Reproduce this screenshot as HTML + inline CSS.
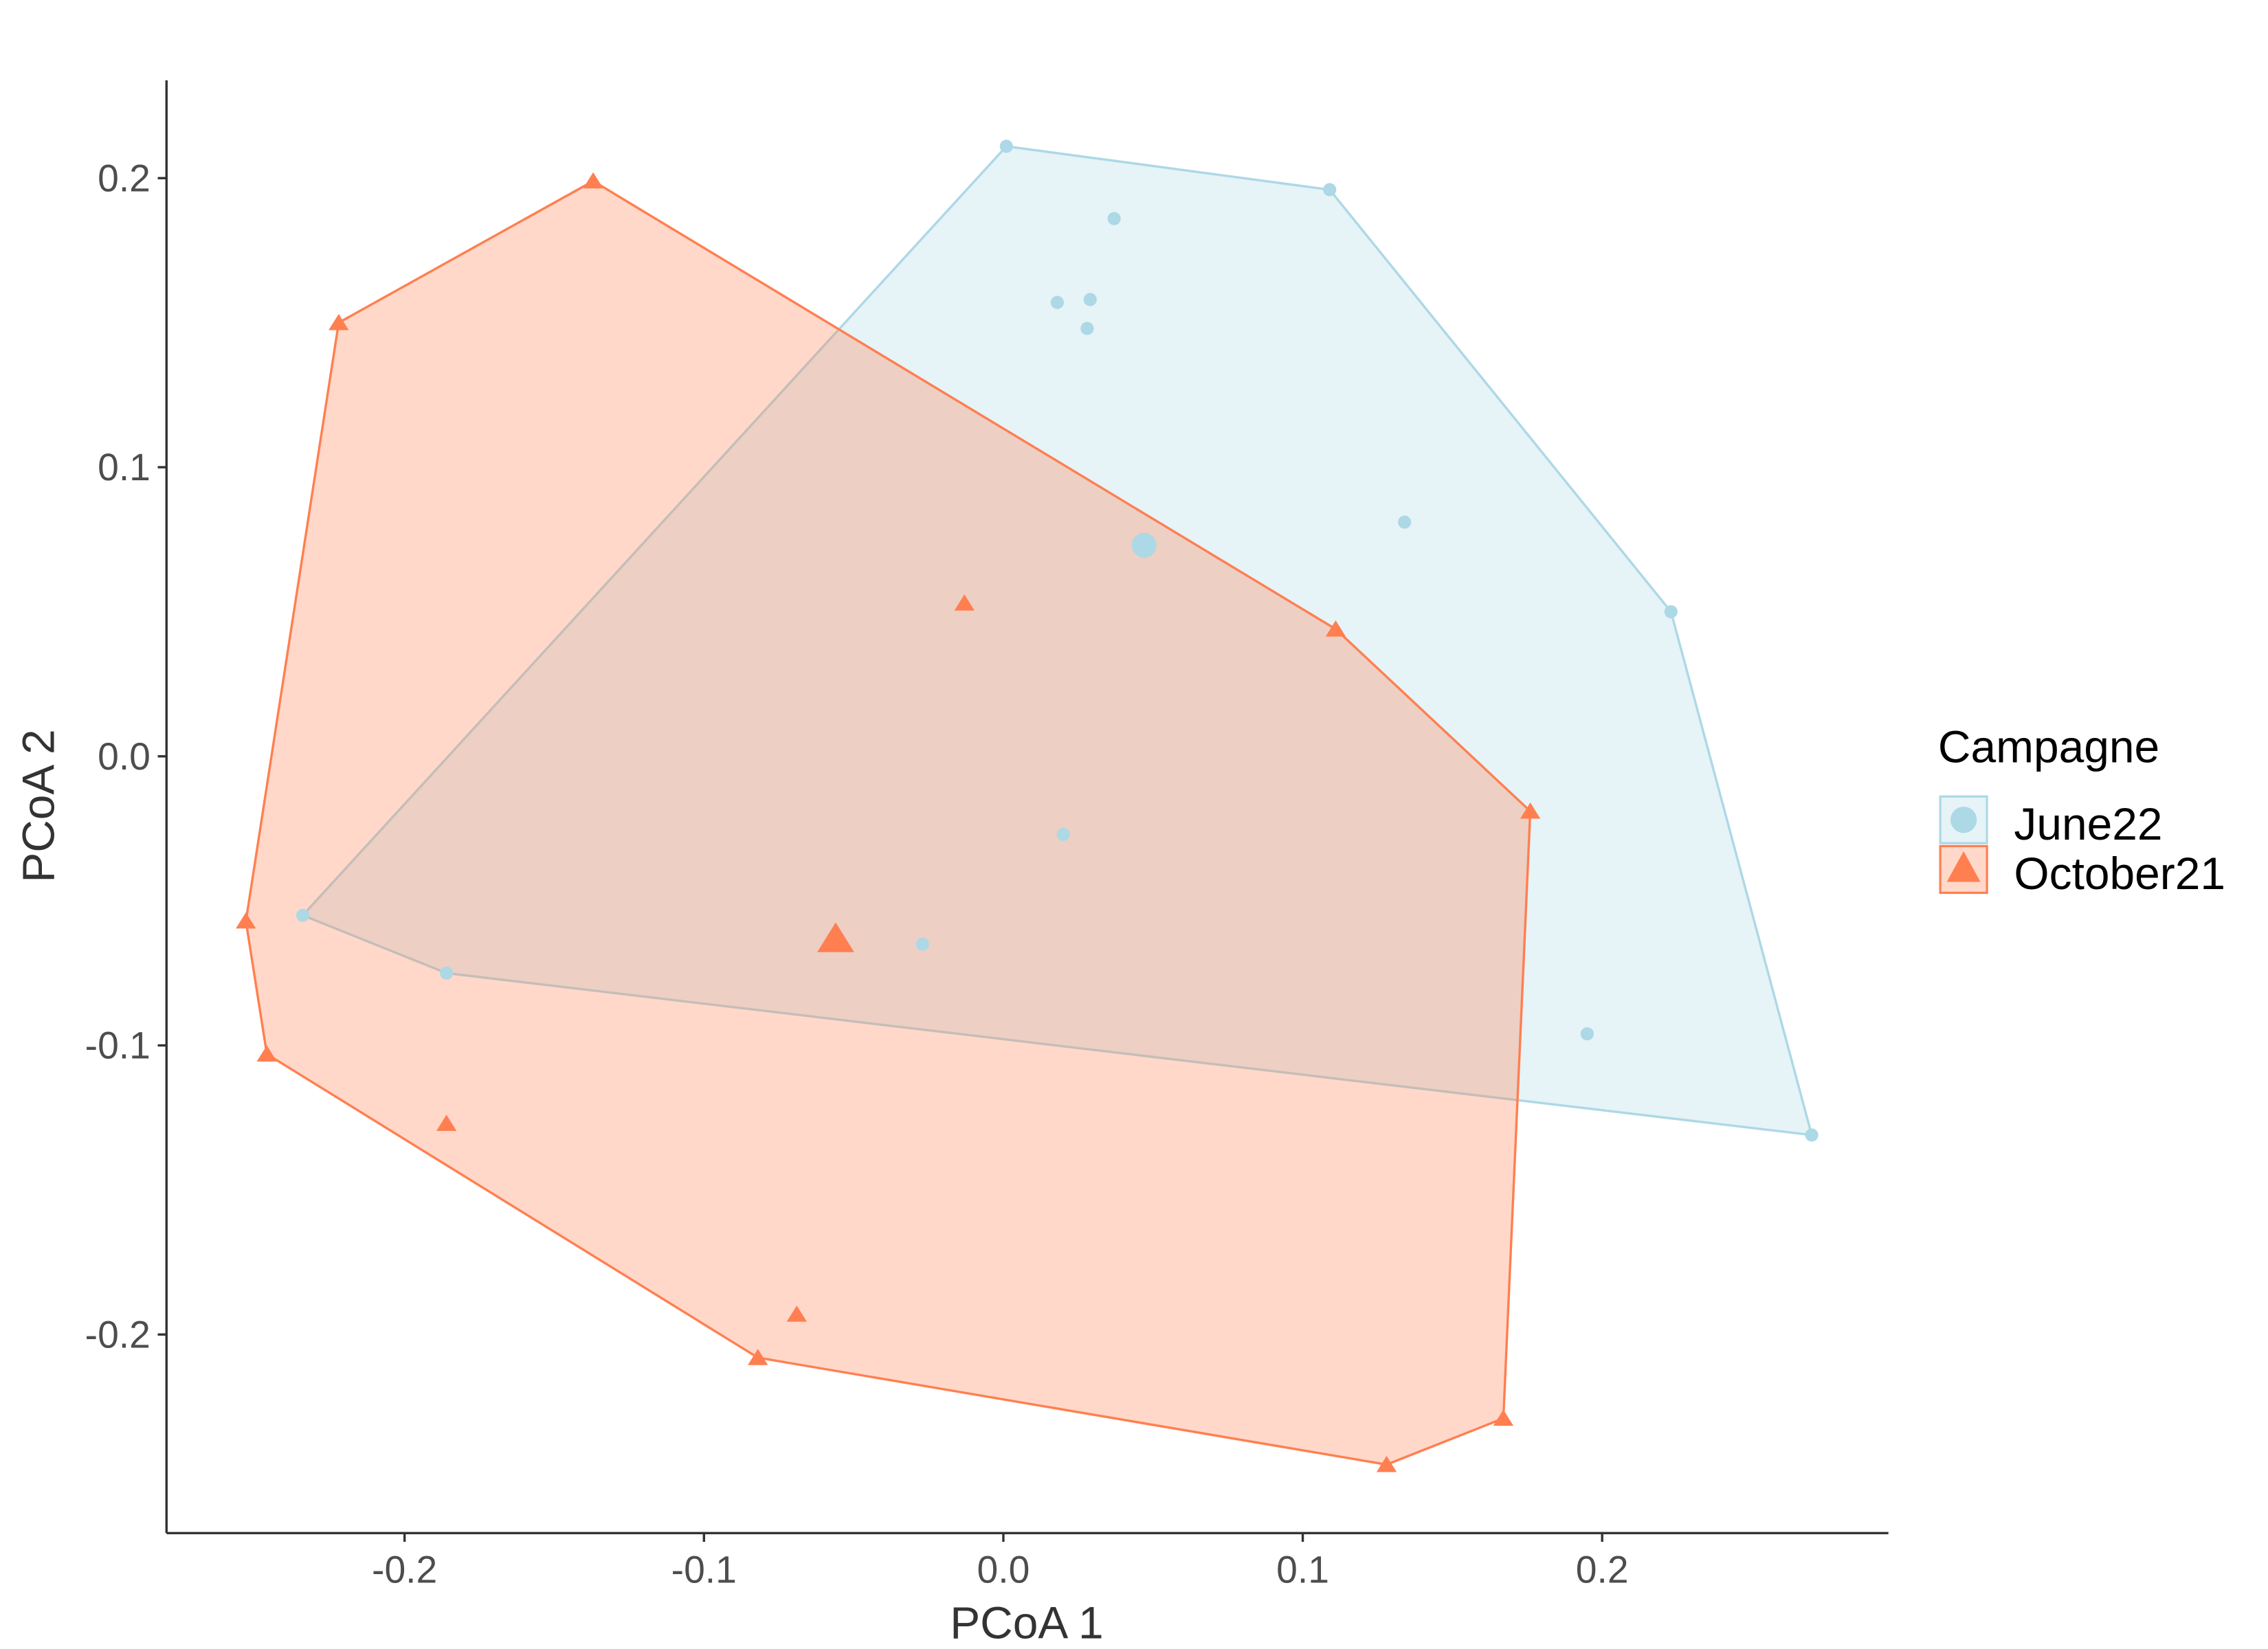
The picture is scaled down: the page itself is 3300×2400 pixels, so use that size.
<!DOCTYPE html>
<html><head><meta charset="utf-8"><style>
html,body{margin:0;padding:0;background:#fff}
svg{display:block}
text{font-family:"Liberation Sans",sans-serif}
</style></head><body>
<svg id="chart" width="3300" height="2400" viewBox="0 0 1552.9 1129.4" xmlns="http://www.w3.org/2000/svg">
<rect width="1552.9" height="1129.4" fill="#fff"/>
<g id="hulls"></g>
<g id="points"></g>
<g id="axes"></g>
<text x="703" y="1122" font-size="31" fill="#333" text-anchor="middle">PCoA 1</text>
<text transform="translate(37,552) rotate(-90)" font-size="31" fill="#333" text-anchor="middle">PCoA 2</text>
<g>
<text x="1327" y="522" font-size="31" fill="#000">Campagne</text>
<g>
<rect x="1328.5" y="545.5" width="32" height="32" fill="rgba(173,216,230,0.3)" stroke="#add8e6" stroke-width="1.5"/>
<circle cx="1344.5" cy="561.5" r="9" fill="#add8e6"/>
<text x="1379" y="575" font-size="31" fill="#000">June22</text></g>
<g>
<rect x="1328.5" y="579.5" width="32" height="32" fill="rgba(255,127,80,0.3)" stroke="#ff7f50" stroke-width="1.5"/>
<polygon points="1344.5,583 1356,604 1333,604" fill="#ff7f50"/>
<text x="1379" y="609" font-size="31" fill="#000">October21</text></g>
</g>
</svg>
<script>
const juneX=[0.001,0.109,0.037,0.018,0.029,0.028,0.134,0.223,0.020,-0.027,0.195,0.270,-0.234,-0.186];
const juneY=[0.211,0.196,0.186,0.157,0.158,0.148,0.081,0.050,-0.027,-0.065,-0.096,-0.131,-0.055,-0.075];
const juneCentroid=[0.047,0.073];
const octX=[-0.137,-0.222,-0.013,0.111,0.176,-0.253,-0.246,-0.186,-0.069,-0.082,0.128,0.167];
const octY=[0.199,0.150,0.053,0.044,-0.019,-0.057,-0.103,-0.127,-0.193,-0.208,-0.245,-0.229];
const octCentroid=[-0.056,-0.063];
const xTicks=[-0.2,-0.1,0.0,0.1,0.2];
const xTickLabels=["-0.2","-0.1","0.0","0.1","0.2"];
const yTicks=[0.2,0.1,0.0,-0.1,-0.2];
const yTickLabels=["0.2","0.1","0.0","-0.1","-0.2"];

const NS="http://www.w3.org/2000/svg";
const sx=v=>687+v*2050;
const sy=v=>518-v*1980;
function mk(tag,attrs,parent){const e=document.createElementNS(NS,tag);for(const k in attrs)e.setAttribute(k,attrs[k]);parent.appendChild(e);return e;}
function hull(pts){
  pts=pts.slice().sort((a,b)=>a[0]-b[0]||a[1]-b[1]);
  const cr=(o,a,b)=>(a[0]-o[0])*(b[1]-o[1])-(a[1]-o[1])*(b[0]-o[0]);
  const lo=[],up=[];
  for(const p of pts){while(lo.length>=2&&cr(lo[lo.length-2],lo[lo.length-1],p)<=0)lo.pop();lo.push(p);}
  for(let i=pts.length-1;i>=0;i--){const p=pts[i];while(up.length>=2&&cr(up[up.length-2],up[up.length-1],p)<=0)up.pop();up.push(p);}
  up.pop();lo.pop();return lo.concat(up);
}
const hg=document.getElementById('hulls');
function drawHull(xs,ys,fill,stroke,name){
  const h=hull(xs.map((x,i)=>[sx(x),sy(ys[i])]));
  const p=mk('polygon',{points:h.map(q=>q.join(',')).join(' '),fill:fill,stroke:stroke,'stroke-width':1.6},hg);
  
  
}
drawHull(juneX,juneY,'rgba(173,216,230,0.3)','#add8e6','hull-june22');
drawHull(octX,octY,'rgba(255,127,80,0.3)','#ff7f50','hull-october21');

const pg=document.getElementById('points');
function tri(cx,cy,s){return `${cx},${cy-s} ${cx+s*1.15},${cy+s*0.85} ${cx-s*1.15},${cy+s*0.85}`;}
juneX.forEach((x,i)=>{
  const c=mk('circle',{cx:sx(x),cy:sy(juneY[i]),r:4.5,fill:'#add8e6'},pg);
  
  
});
octX.forEach((x,i)=>{
  const t=mk('polygon',{points:tri(sx(x),sy(octY[i]),6),fill:'#ff7f50'},pg);
  
  
});
const cj=mk('circle',{cx:sx(juneCentroid[0]),cy:sy(juneCentroid[1]),r:8.5,fill:'#add8e6'},pg);


const co=mk('polygon',{points:tri(sx(octCentroid[0]),sy(octCentroid[1]),11),fill:'#ff7f50'},pg);



const ag=document.getElementById('axes');
const xl=mk('line',{x1:114,y1:1050,x2:1293,y2:1050,stroke:'#333','stroke-width':1.6},ag);


const yl=mk('line',{x1:114,y1:55,x2:114,y2:1050,stroke:'#333','stroke-width':1.6},ag);


xTicks.forEach((v,i)=>{
  mk('line',{x1:sx(v),y1:1050,x2:sx(v),y2:1056,stroke:'#333','stroke-width':1.6},ag);
  const t=mk('text',{x:sx(v),y:1084,'font-size':26,fill:'#4d4d4d','text-anchor':'middle'},ag);
  t.textContent=xTickLabels[i];
  
  
});
yTicks.forEach((v,i)=>{
  mk('line',{x1:108,y1:sy(v),x2:114,y2:sy(v),stroke:'#333','stroke-width':1.6},ag);
  const t=mk('text',{x:103,y:sy(v)+9,'font-size':26,fill:'#4d4d4d','text-anchor':'end'},ag);
  t.textContent=yTickLabels[i];
  
  
});
</script>
</body></html>
